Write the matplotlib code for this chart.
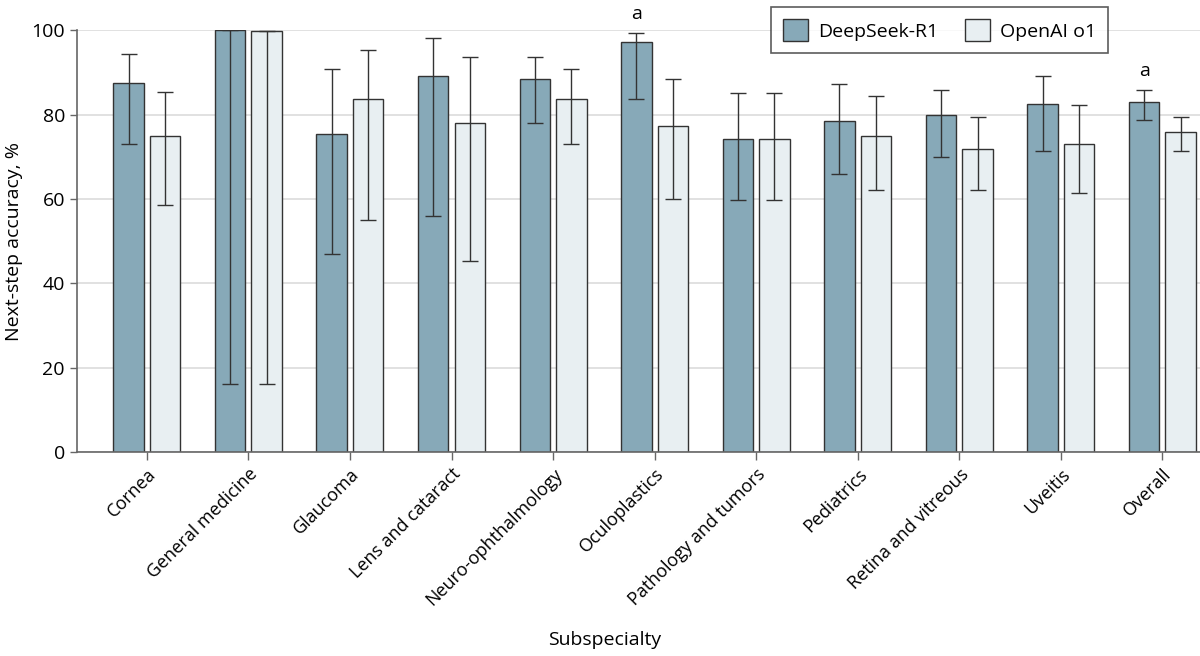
import matplotlib
matplotlib.use('Agg')
import matplotlib.pyplot as plt
import numpy as np

plt.rcParams['font.family'] = ['Open Sans', 'DejaVu Sans']

# data
subspecialty = ['Cornea', 'General medicine', 'Glaucoma', 'Lens and cataract',
                'Neuro-ophthalmology', 'Oculoplastics', 'Pathology and tumors',
                'Pediatrics', 'Retina and vitreous', 'Uveitis', 'Overall']
deepseek = [87.5, 100.0, 75.5, 89.2, 88.5, 97.2, 74.3, 78.5, 79.8, 82.5, 83.0]
deepseek_lo = [73.1, 16.0, 47.0, 56.0, 77.9, 83.6, 59.7, 65.9, 70.0, 71.4, 78.8]
deepseek_hi = [94.3, 100.0, 90.8, 98.2, 93.7, 99.4, 85.2, 87.2, 85.9, 89.1, 85.9]
openai = [75.0, 99.8, 83.6, 77.9, 83.6, 77.3, 74.3, 75.0, 71.8, 73.1, 75.8]
openai_lo = [58.5, 16.0, 55.0, 45.2, 72.9, 60.0, 59.7, 62.1, 62.1, 61.3, 71.4]
openai_hi = [85.4, 99.8, 95.3, 93.7, 90.8, 88.5, 85.2, 84.4, 79.5, 82.2, 79.4]
signif = ['Oculoplastics', 'Overall']

x = np.arange(len(subspecialty))
w = 0.3
ds_col = '#87a9b8'
oa_col = '#e8eff2'

fig = plt.figure(figsize=(12, 6.56), dpi=100)
ax = fig.add_axes([0.064, 0.311, 0.936, 0.643])

ax.yaxis.grid(True, color='#dcdcdc', lw=1.2, zorder=0)
ax.set_axisbelow(True)

ds = np.array(deepseek)
oa = np.array(openai)
ax.bar(x - 0.18, ds, w, color=ds_col, edgecolor='#333333', lw=1, zorder=2, label='DeepSeek-R1')
ax.bar(x + 0.18, oa, w, color=oa_col, edgecolor='#333333', lw=1, zorder=2, label='OpenAI o1')
ax.errorbar(x - 0.18, ds, yerr=[ds - np.array(deepseek_lo), np.array(deepseek_hi) - ds],
            fmt='none', ecolor='#333333', elinewidth=1, capsize=6, capthick=1, zorder=3)
ax.errorbar(x + 0.18, oa, yerr=[oa - np.array(openai_lo), np.array(openai_hi) - oa],
            fmt='none', ecolor='#333333', elinewidth=1, capsize=6, capthick=1, zorder=3)

for s in signif:
    i = subspecialty.index(s)
    ax.text(i - 0.18, deepseek_hi[i] + 2.2, 'a', ha='center', va='bottom',
            fontsize=14, clip_on=False)

ax.set_xlim(-0.69, 10.37)
ax.set_ylim(0, 100)
ax.set_yticks([0, 20, 40, 60, 80, 100])
ax.set_xticks(x)
ax.set_xticklabels(subspecialty, rotation=45, ha='right', rotation_mode='anchor', fontsize=13)
ax.tick_params(axis='y', labelsize=14, length=5, color='#666666', width=1)
ax.tick_params(axis='x', length=6, color='#666666', width=1)

for sp in ['top', 'right']:
    ax.spines[sp].set_visible(False)
for sp in ['left', 'bottom']:
    ax.spines[sp].set_color('#666666')
    ax.spines[sp].set_linewidth(1.2)

ax.set_ylabel('Next-step accuracy, %', fontsize=14, labelpad=6)
ax.set_xlabel('Subspecialty', fontsize=14, labelpad=10)
ax.xaxis.set_label_coords(0.47, -0.425)

leg = ax.legend(loc='center', bbox_to_anchor=(0.783, 0.954), bbox_transform=fig.transFigure,
                ncol=2, fontsize=14, frameon=True, fancybox=False, edgecolor='#333333',
                handlelength=1.3, handleheight=1.4, handletextpad=0.5,
                columnspacing=1.4, borderpad=0.6)
leg.get_frame().set_linewidth(1.2)

fig.savefig('out.png', dpi=100)
